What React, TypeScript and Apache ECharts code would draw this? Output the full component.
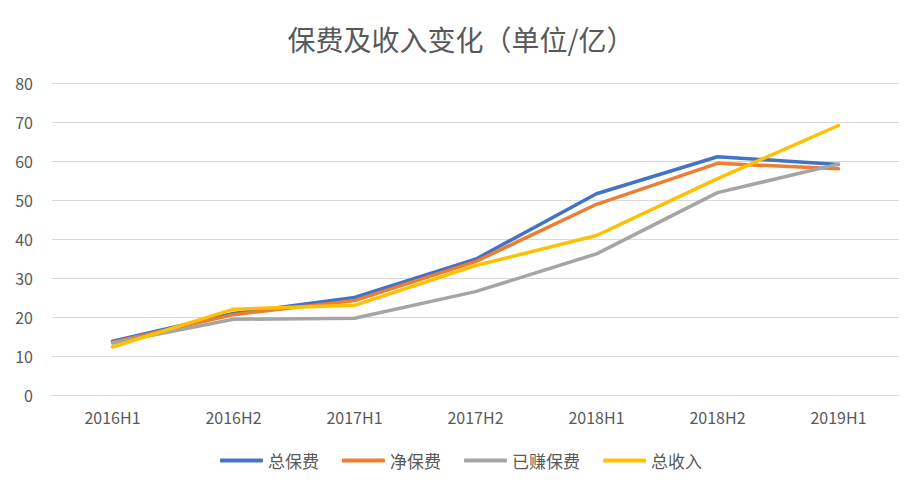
import React, { useEffect, useRef } from "react";
import * as echarts from "echarts";

const categories = ["2016H1", "2016H2", "2017H1", "2017H2", "2018H1", "2018H2", "2019H1"];
const totalPremium = [13.8, 20.9, 25.0, 34.8, 51.6, 61.1, 59.1];
const netPremium = [13.5, 20.6, 24.2, 34.2, 48.9, 59.4, 58.0];
const earnedPremium = [13.3, 19.4, 19.7, 26.5, 36.2, 51.9, 59.2];
const totalIncome = [12.3, 22.0, 23.0, 33.2, 40.9, 55.5, 69.1];
const seriesNames = ["总保费", "净保费", "已赚保费", "总收入"];
const colors = ["#4472C4", "#ED7D31", "#A5A5A5", "#FFC000"];

export default function App() {
  const ref = useRef<HTMLDivElement>(null);
  useEffect(() => {
    if (!ref.current) return;
    const chart = echarts.init(ref.current, null, { renderer: "svg" });
    const font = '"Noto Sans CJK SC", "Noto Sans", sans-serif';
    const data = [totalPremium, netPremium, earnedPremium, totalIncome];
    chart.setOption({
      animation: false,
      backgroundColor: "#ffffff",
      color: colors,
      title: {
        text: "保费及收入变化（单位/亿）",
        left: "center",
        top: 20,
        textStyle: { color: "#595959", fontSize: 28, fontWeight: "normal", fontFamily: font },
      },
      legend: {
        bottom: 17,
        left: "center",
        icon: "roundRect",
        itemWidth: 43,
        itemHeight: 4,
        itemGap: 23,
        textStyle: { color: "#595959", fontSize: 17, fontFamily: font },
        data: seriesNames,
      },
      grid: { left: 52, right: 23, top: 83, bottom: 96, containLabel: false },
      xAxis: {
        type: "category",
        data: categories,
        boundaryGap: true,
        axisLine: { show: true, lineStyle: { color: "#D9D9D9", width: 1 } },
        axisTick: { show: false },
        axisLabel: { color: "#595959", fontSize: 16, fontFamily: font, margin: 14 },
      },
      yAxis: {
        type: "value",
        min: 0,
        max: 80,
        interval: 10,
        axisLine: { show: false },
        axisTick: { show: false },
        axisLabel: { color: "#595959", fontSize: 16, fontFamily: font, margin: 19 },
        splitLine: { lineStyle: { color: "#D9D9D9", width: 1 } },
      },
      series: seriesNames.map((name, i) => ({
        name,
        type: "line",
        data: data[i],
        showSymbol: false,
        symbol: "none",
        lineStyle: { width: 3.5, color: colors[i], cap: "round", join: "round" },
        itemStyle: { color: colors[i] },
      })),
    });
    return () => chart.dispose();
  }, []);
  return (
    <div
      ref={ref}
      style={{ position: "absolute", left: 0, top: 0, width: 922, height: 491 }}
    />
  );
}
